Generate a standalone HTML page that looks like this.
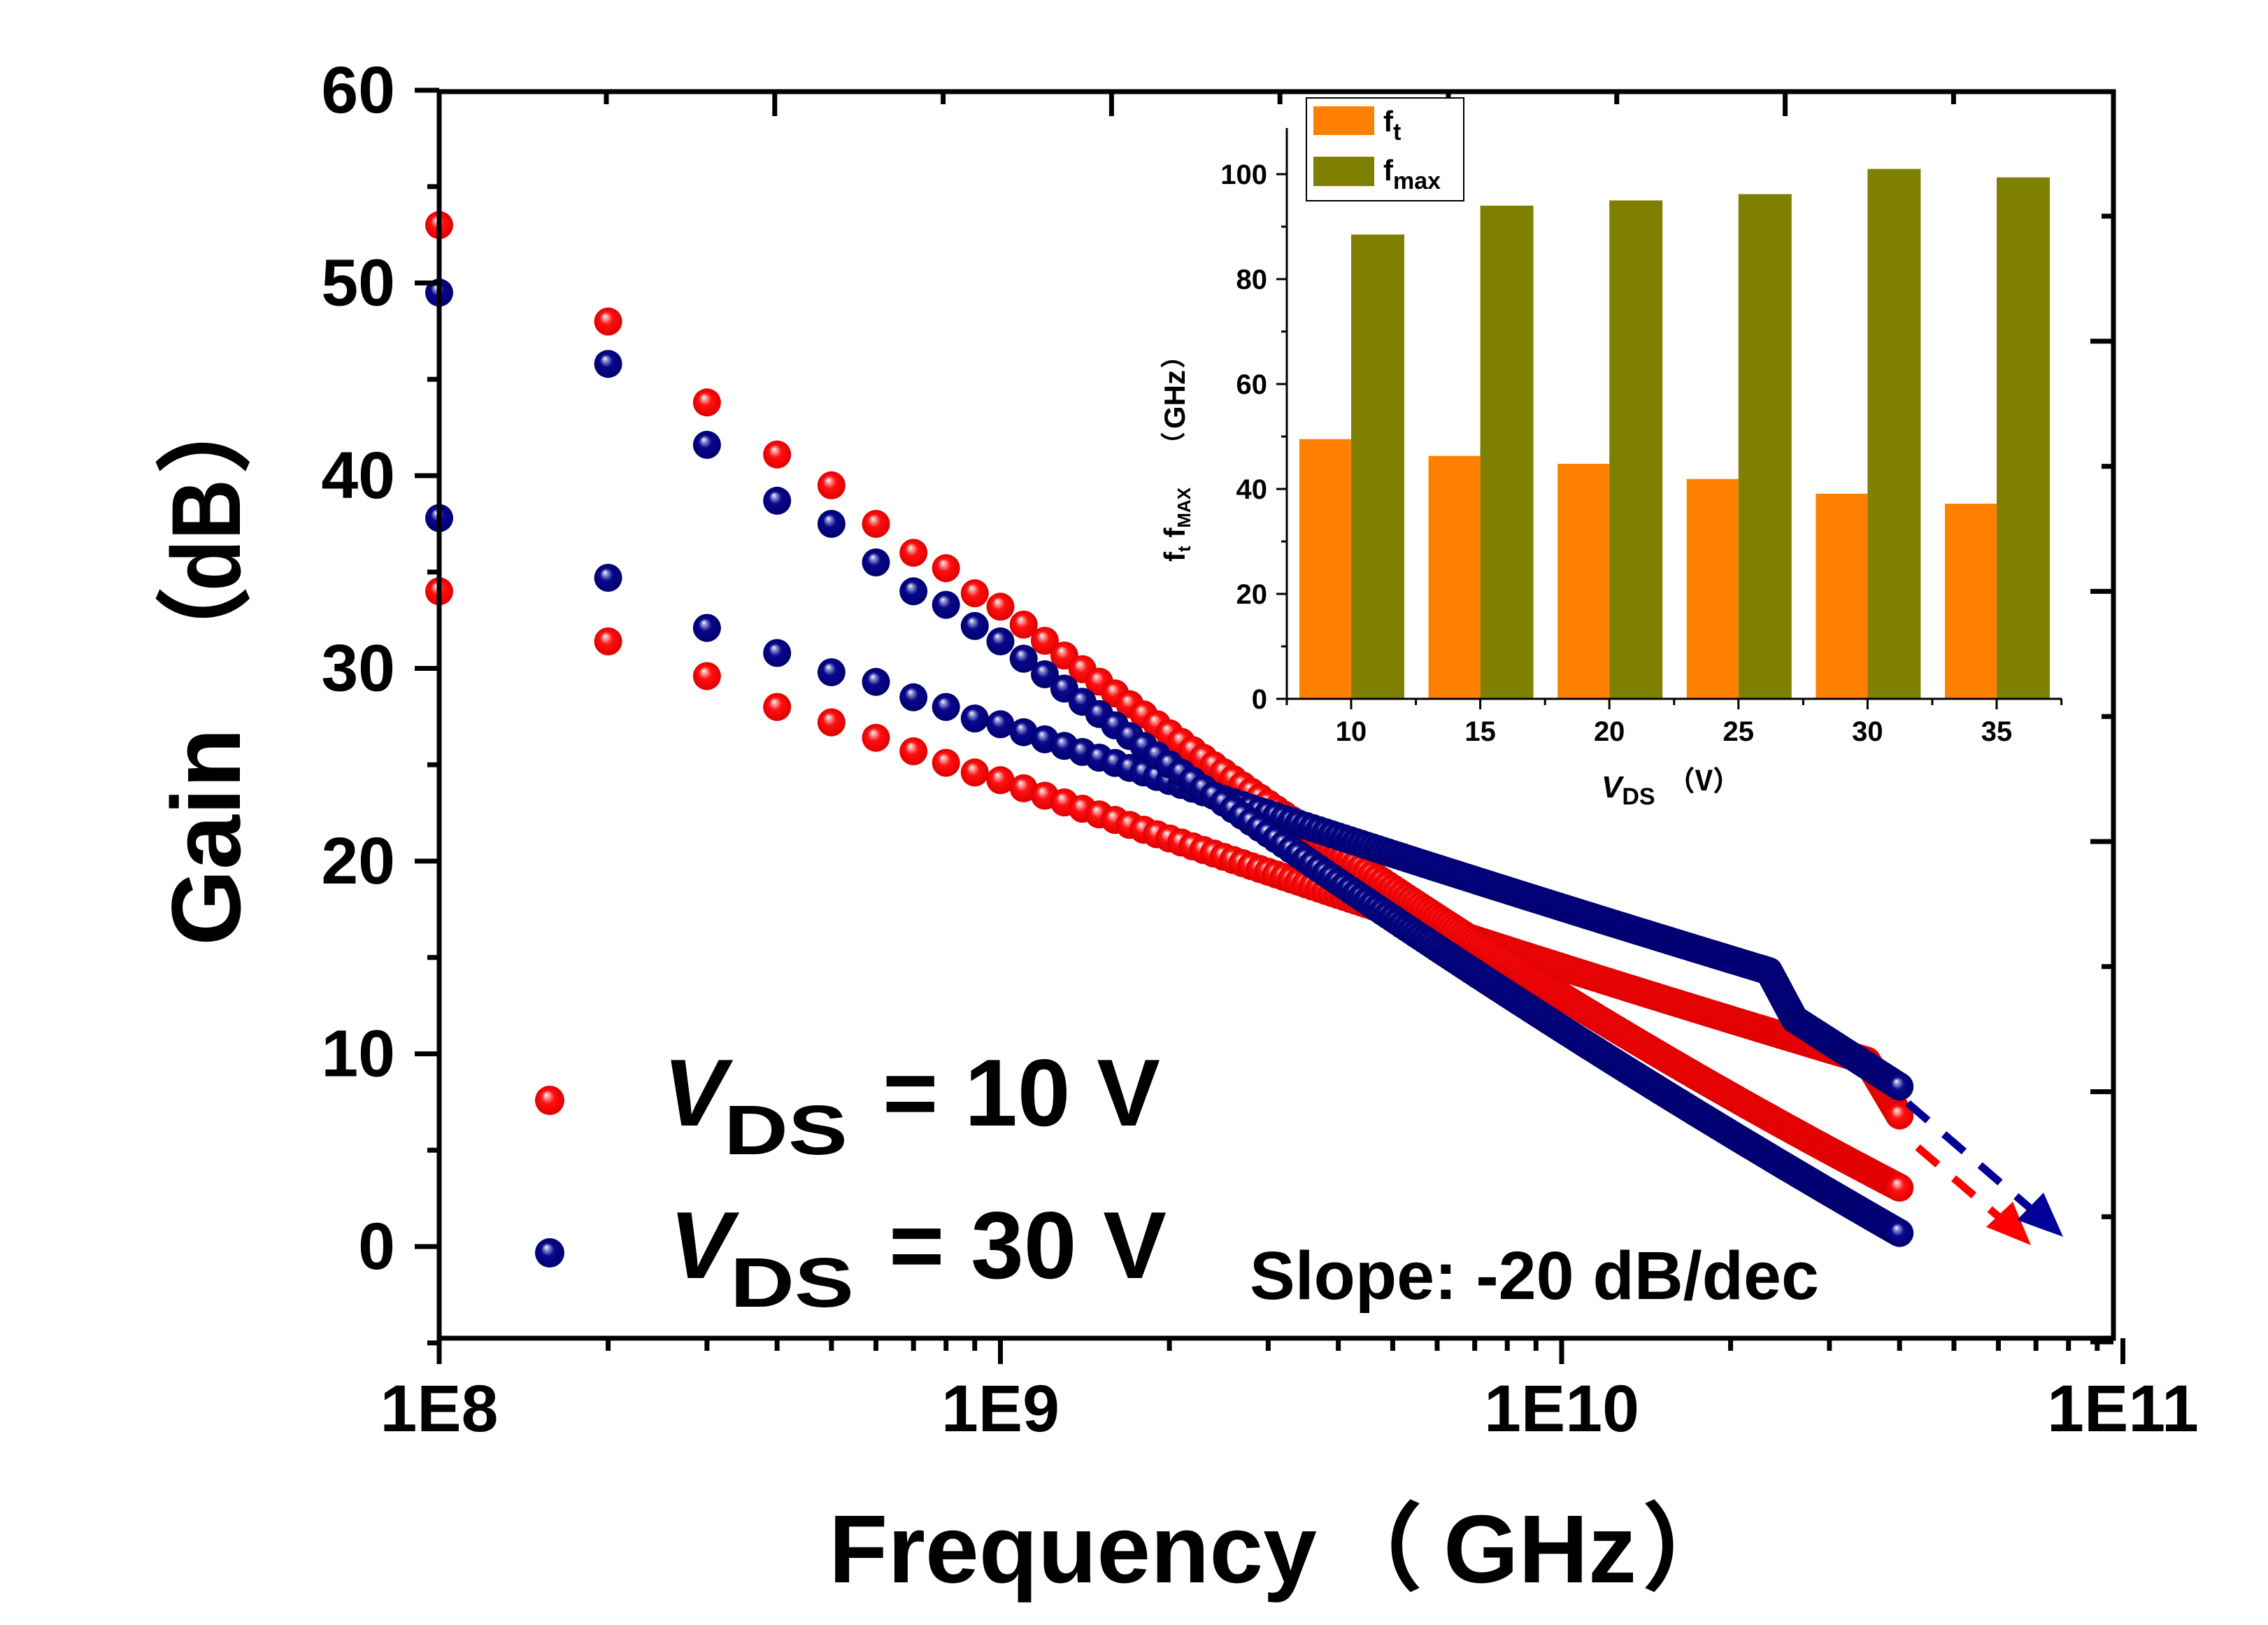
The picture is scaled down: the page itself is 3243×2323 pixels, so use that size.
<!DOCTYPE html>
<html><head><meta charset="utf-8">
<style>
html,body{margin:0;padding:0;background:#fff;}
svg{display:block;}
text{font-family:"Liberation Sans","Noto Sans CJK SC",sans-serif;font-weight:bold;fill:#000;}
</style></head>
<body>
<svg id="s" width="3243" height="2323" viewBox="0 0 3243 2323" xmlns="http://www.w3.org/2000/svg">
<defs>
<radialGradient id="gr" cx="0.5" cy="0.5" r="0.5" fx="0.38" fy="0.3">
<stop offset="0" stop-color="#fff"/><stop offset="0.18" stop-color="#ff9a9a"/><stop offset="0.45" stop-color="#ff1010"/><stop offset="1" stop-color="#e00000"/>
</radialGradient>
<radialGradient id="gb" cx="0.5" cy="0.5" r="0.5" fx="0.38" fy="0.3">
<stop offset="0" stop-color="#fff"/><stop offset="0.18" stop-color="#8a8ad0"/><stop offset="0.45" stop-color="#08088c"/><stop offset="1" stop-color="#000070"/>
</radialGradient>
</defs>
<g id="dots"></g>
<g id="axes"></g>

<!-- arrows -->
<line x1="2742" y1="1640" x2="2862" y2="1743" stroke="#ff0000" stroke-width="11" stroke-dasharray="38,30"/>
<polygon points="2904,1780 2840,1754 2878,1718" fill="#ff0000"/>
<line x1="2728" y1="1577" x2="2905" y2="1729" stroke="#000099" stroke-width="11" stroke-dasharray="38,30"/>
<polygon points="2950,1768 2884,1744 2922,1705" fill="#000099"/>

<!-- legend -->
<circle cx="786" cy="1573" r="21" fill="url(#gr)"/>
<circle cx="786" cy="1791" r="21" fill="url(#gb)"/>
<text x="948" y="1609" font-size="136" font-style="italic">V</text>
<text x="1035" y="1650" font-size="100" textLength="177" lengthAdjust="spacingAndGlyphs">DS</text>
<text x="1262" y="1609" font-size="136">= 10 V</text>
<text x="957" y="1827" font-size="136" font-style="italic">V</text>
<text x="1044" y="1868" font-size="100" textLength="177" lengthAdjust="spacingAndGlyphs">DS</text>
<text x="1271" y="1827" font-size="136">= 30 V</text>
<text x="1787" y="1857" font-size="97">Slope: -20 dB/dec</text>

<!-- axis titles -->
<text x="1185" y="2262" font-size="138">Frequency</text>
<text x="1898" y="2262" font-size="138" font-weight="normal" style="font-family:'Noto Sans CJK SC',sans-serif">（</text>
<text x="2064" y="2262" font-size="138">GHz</text>
<text x="2346" y="2262" font-size="138" font-weight="normal" style="font-family:'Noto Sans CJK SC',sans-serif">）</text>
<g transform="translate(343,1352) rotate(-90)">
<text x="0" y="0" font-size="140">Gain</text>
<text x="376" y="0" font-size="140" font-weight="normal" style="font-family:'Noto Sans CJK SC',sans-serif">（</text>
<text x="507" y="0" font-size="140" textLength="160" lengthAdjust="spacingAndGlyphs">dB</text>
<text x="672" y="0" font-size="140" font-weight="normal" style="font-family:'Noto Sans CJK SC',sans-serif">）</text>
</g>

<!-- inset -->
<g id="inset"></g>
<rect x="1868" y="140" width="225" height="147" fill="#fff" stroke="#000" stroke-width="2"/>
<rect x="1878" y="152" width="87" height="41" fill="#ff8000"/>
<rect x="1878" y="224" width="87" height="42" fill="#808000"/>
<text x="1978" y="188" font-size="42">f<tspan font-size="34" dy="12">t</tspan></text>
<text x="1978" y="258" font-size="42">f<tspan font-size="34" dy="12">max</tspan></text>
<text x="2290" y="1140" font-size="44" font-style="italic">V<tspan font-style="normal" font-size="34" dy="10">DS</tspan></text>
<text x="2384" y="1130" font-size="40" font-weight="normal" style="font-family:'Noto Sans CJK SC',sans-serif">（V）</text>
<g transform="translate(1694,803) rotate(-90)">
<text x="0" y="0" font-size="42">f<tspan font-size="26" dy="8">t</tspan><tspan dy="-8">  f</tspan><tspan font-size="26" dy="8">MAX</tspan></text>
<text x="150" y="-4" font-size="36" font-weight="normal" style="font-family:'Noto Sans CJK SC',sans-serif">（</text>
<text x="190" y="0" font-size="42">GHz</text>
<text x="276" y="-4" font-size="36" font-weight="normal" style="font-family:'Noto Sans CJK SC',sans-serif">）</text>
</g>
</svg>
<script>
(function(){
var NS="http://www.w3.org/2000/svg";
function el(p,t,a){var e=document.createElementNS(NS,t);for(var k in a)e.setAttribute(k,a[k]);p.appendChild(e);return e;}
var X0=628,DEC=802.5,Y0=1782,DBY=27.55;
function X(f){return X0+Math.log10(f/1e8)*DEC;}
function Y(g){return Y0-g*DBY;}
var dots=document.getElementById('dots');
var ru=[53,48,43.8,41.1,39.5,37.5,36,35.2,33.9];
var rl=[34,31.4,29.6,28,27.2,26.4,25.7,25.1,24.6];
var bu=[49.5,45.8,41.6,38.7,37.5,35.5,34,33.3,32.2];
var bl=[37.8,34.7,32.1,30.8,29.8,29.3,28.5,28,27.4];
function L(f){return Math.log10(f/1e9);}
function fru(f){var l=L(f);return 33.2-22.5*l+2.3*l*l;}
function fbu(f){var l=L(f);return 31.4-21.66*l+1.56*l*l;}
function frl0(l){return 24.2-10.2*l+0.5*l*l;}
function frl(f){var l=L(f);if(f<=3.5e10)return frl0(l);var l0=L(3.5e10),l1=L(4e10);var v0=frl0(l0);return v0+(6.8-v0)*(l-l0)/(l1-l0);}
function fbl0(l){return 27.1-9.9*l+0.4*l*l;}
function fbl(f){var l=L(f);if(f<=2.34e10)return fbl0(l);var a=L(2.34e10),b=L(2.6e10),c=L(4e10);var v0=fbl0(a);
 if(f<=2.6e10)return v0+(11.8-v0)*(l-a)/(b-a);return 11.8+(8.3-11.8)*(l-b)/(c-b);}
function series(arr,fn,g){
 for(var i=1;i<=400;i++){var f=i*1e8;var v=(i<10)?arr[i-1]:fn(f);
  el(dots,'circle',{cx:X(f).toFixed(1),cy:Y(v).toFixed(1),r:20,fill:'url(#'+g+')'});}
}
series(rl,frl,'gr');series(ru,fru,'gr');series(bl,fbl,'gb');series(bu,fbu,'gb');
// axes
var ax=document.getElementById('axes');
var xr=3022,yt=131,yb=1913;
el(ax,'rect',{x:X0,y:yt,width:xr-X0,height:yb-yt,fill:'none',stroke:'#000','stroke-width':7});
// y ticks
for(var g=-5;g<=60;g+=5){var y=Y(g);var maj=(g%10==0);
 el(ax,'line',{x1:X0,x2:X0-(maj?35:17),y1:y,y2:y,stroke:'#000','stroke-width':7});
 if(maj){var t=el(ax,'text',{x:565,y:y+32,'font-size':95,'text-anchor':'end'});t.textContent=g;}}
// right ticks
for(var k=0;k<10;k++){var y=309+k*178.8;var maj=(k%2==1);
 el(ax,'line',{x1:xr,x2:xr-(maj?33:17),y1:y,y2:y,stroke:'#000','stroke-width':7});}
// top ticks (linear)
for(var k=0;k<9;k++){var x=867+k*240.8;var maj=(k%2==1);
 el(ax,'line',{x1:x,x2:x,y1:yt,y2:yt+(maj?35:18),stroke:'#000','stroke-width':7});}
// x ticks
var labs=['1E8','1E9','1E10','1E11'];
for(var d=0;d<3;d++)for(var m=1;m<10;m++){var x=X0+(d+Math.log10(m))*DEC;var maj=(m==1);
 el(ax,'line',{x1:x,x2:x,y1:yb,y2:yb+(maj?37:18),stroke:'#000','stroke-width':7});}
el(ax,'line',{x1:X0+3*DEC,x2:X0+3*DEC,y1:yb,y2:yb+37,stroke:'#000','stroke-width':7});
for(var d=0;d<4;d++){var t=el(ax,'text',{x:X0+d*DEC,y:2046,'font-size':95,'text-anchor':'middle'});t.textContent=labs[d];}
// inset
var ins=document.getElementById('inset');
var IX0=1840,IX1=2948,IY0=999,SC=7.5;
var ft=[49.5,46.3,44.8,41.9,39.1,37.2],fm=[88.5,94,95,96.2,101,99.4];
for(var i=0;i<6;i++){var c=1932+i*184.6;
 el(ins,'rect',{x:c-74,y:IY0-ft[i]*SC,width:74,height:ft[i]*SC,fill:'#ff8000'});
 el(ins,'rect',{x:c,y:IY0-fm[i]*SC,width:76,height:fm[i]*SC,fill:'#808000'});
 el(ins,'line',{x1:c,x2:c,y1:IY0,y2:IY0+15,stroke:'#000','stroke-width':3});
 var t=el(ins,'text',{x:c,y:1059,'font-size':40,'text-anchor':'middle'});t.textContent=10+5*i;}
for(var i=0;i<=6;i++){var x=IX0+i*184.6;el(ins,'line',{x1:x,x2:x,y1:IY0,y2:IY0+9,stroke:'#000','stroke-width':3});}
el(ins,'line',{x1:IX0,x2:IX1,y1:IY0,y2:IY0,stroke:'#000','stroke-width':3});
el(ins,'line',{x1:IX0,x2:IX0,y1:183,y2:IY0,stroke:'#000','stroke-width':3});
for(var v=0;v<=100;v+=10){var y=IY0-v*SC;var maj=(v%20==0);
 el(ins,'line',{x1:IX0,x2:IX0-(maj?15:8),y1:y,y2:y,stroke:'#000','stroke-width':3});
 if(maj){var t=el(ins,'text',{x:1812,y:y+14,'font-size':40,'text-anchor':'end'});t.textContent=v;}}
})();
</script>
</body></html>
